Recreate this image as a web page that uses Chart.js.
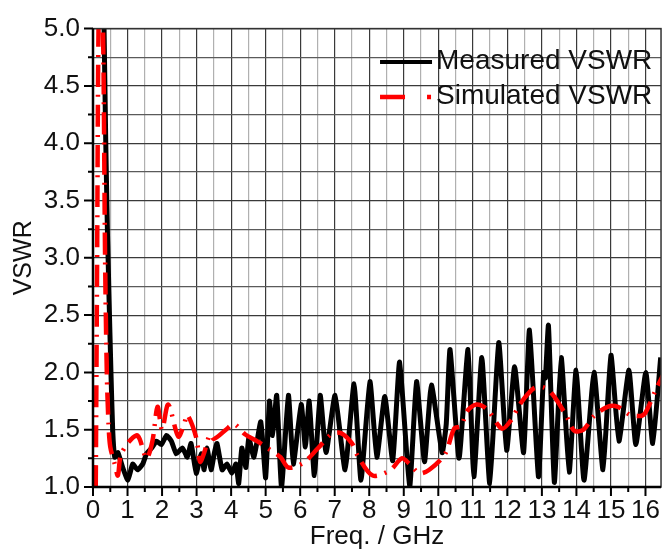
<!DOCTYPE html>
<html>
<head>
<meta charset="utf-8">
<script src="https://cdn.jsdelivr.net/npm/chart.js@4.4.1/dist/chart.umd.min.js"></script>
<style>
  html, body { margin: 0; background: #fff; }
  canvas { display: block; }
</style>
</head>
<body>
<canvas id="vswr" width="668" height="552"></canvas>
<script>
// values (GHz / VSWR)
const measuredFreq = [0.30, 0.32, 0.37, 0.42, 0.43, 0.46, 0.52, 0.57, 0.63, 0.72, 0.86, 1.01, 1.15, 1.29, 1.44, 1.55,
  1.70, 1.84, 1.98, 2.13, 2.27, 2.41, 2.59, 2.73, 2.84, 2.99, 3.13, 3.22, 3.30, 3.42, 3.51, 3.59, 3.74, 3.88,
  4.02, 4.14, 4.22, 4.31, 4.43, 4.51, 4.66, 4.86, 5.00, 5.11, 5.20, 5.32, 5.46, 5.66, 5.80, 6.03, 6.15, 6.26,
  6.41, 6.58, 6.75, 7.01, 7.30, 7.56, 7.76, 8.02, 8.22, 8.45, 8.68, 8.88, 9.17, 9.37, 9.60, 9.80, 10.11, 10.23,
  10.34, 10.60, 10.86, 11.03, 11.26, 11.49, 11.75, 11.98, 12.21, 12.47, 12.64, 12.90, 13.05, 13.10, 13.19, 13.36,
  13.56, 13.79, 13.99, 14.22, 14.51, 14.77, 15.00, 15.23, 15.52, 15.72, 16.01, 16.21, 16.44];
const measuredVswr = [5.3, 5.0, 4.0, 3.2, 3.1, 2.7, 2.0, 1.5, 1.26, 1.3, 1.17, 1.06, 1.2, 1.15, 1.2, 1.29,
  1.34, 1.4, 1.37, 1.45, 1.4, 1.29, 1.34, 1.26, 1.38, 1.12, 1.29, 1.15, 1.34, 1.15, 1.29, 1.38, 1.15, 1.2,
  1.12, 1.2, 1.03, 1.34, 1.17, 1.43, 1.26, 1.57, 1.08, 1.75, 1.45, 1.8, 1.0, 1.8, 1.2, 1.72, 1.35, 1.75,
  1.1, 1.8, 1.3, 1.8, 1.15, 1.9, 1.06, 1.92, 1.26, 1.79, 1.23, 2.09, 1.0, 1.92, 1.22, 1.89, 1.3, 1.55,
  2.2, 1.25, 2.2, 1.09, 2.13, 1.03, 2.26, 1.32, 2.05, 1.3, 2.37, 1.09, 2.0, 1.95, 2.41, 1.04,
  2.13, 1.13, 2.02, 1.06, 2.0, 1.15, 2.15, 1.4, 2.02, 1.37, 2.0, 1.38, 2.13];

const simulatedFreq = [0.08, 0.12, 0.16, 0.22, 0.29, 0.35, 0.40, 0.45, 0.50, 0.63, 0.72, 0.80, 1.00, 1.26, 1.35,
  1.55, 1.72, 1.87, 2.00, 2.18, 2.47, 2.64, 2.73, 2.99, 3.10, 3.22, 3.39, 3.50, 3.85, 4.08, 4.40, 4.75, 5.10,
  5.43, 5.66, 6.09, 6.52, 6.90, 7.18, 7.50, 7.67, 8.10, 8.62, 8.94, 9.17, 9.45, 9.74, 10.20, 10.46, 10.66,
  10.83, 11.10, 11.41, 11.84, 12.10, 12.36, 12.76, 13.05, 13.33, 13.71, 13.94, 14.20, 14.51, 14.90, 15.20,
  15.55, 15.86, 16.00, 16.30, 16.55];
const simulatedVswr = [1.0, 3.0, 5.0, 5.6, 5.0, 3.0, 2.0, 1.55, 1.35, 1.2, 1.1, 1.27, 1.38, 1.45, 1.42,
  1.25, 1.4, 1.7, 1.5, 1.72, 1.44, 1.55, 1.63, 1.43, 1.22, 1.3, 1.46, 1.42, 1.5, 1.55, 1.46, 1.4, 1.33,
  1.26, 1.17, 1.21, 1.34, 1.46, 1.47, 1.38, 1.27, 1.1, 1.15, 1.25, 1.2, 1.12, 1.15, 1.29, 1.51, 1.53,
  1.66, 1.72, 1.68, 1.51, 1.58, 1.72, 1.86, 1.87, 1.8, 1.62, 1.49, 1.5, 1.62, 1.7, 1.7,
  1.63, 1.62, 1.65, 1.85, 2.0];

const seriesNames = ['Measured VSWR', 'Simulated VSWR'];
const xTickLabels = ['0', '1', '2', '3', '4', '5', '6', '7', '8', '9', '10', '11', '12', '13', '14', '15', '16'];
const yTickLabels = ['1.0', '1.5', '2.0', '2.5', '3.0', '3.5', '4.0', '4.5', '5.0'];

const FONT = "'Liberation Sans', Arial, sans-serif";
const SIM_DASH = [22, 8, 2, 8];

const toPoints = (xs, ys) => xs.map((x, i) => ({ x: x, y: ys[i] }));
const isMajorX = v => Math.abs(v - Math.round(v)) < 1e-6;
const isMajorY = v => Math.abs(v * 2 - Math.round(v * 2)) < 1e-6;

// frame, outside tick marks and the in-plot legend
const decor = {
  id: 'decor',
  afterDatasetsDraw(chart) {
    const { ctx, chartArea: a, scales: { x, y } } = chart;
    ctx.save();
    ctx.strokeStyle = '#333';
    ctx.lineWidth = 1.5;
    ctx.strokeRect(a.left, a.top, a.right - a.left, a.bottom - a.top);
    ctx.strokeStyle = '#000';
    ctx.lineWidth = 2.5;
    ctx.beginPath();
    ctx.moveTo(a.left, a.top);
    ctx.lineTo(a.left, a.bottom);
    ctx.lineTo(a.right, a.bottom);
    ctx.stroke();

    ctx.lineWidth = 2;
    ctx.beginPath();
    x.ticks.forEach(t => {
      const px = x.getPixelForValue(t.value);
      const len = isMajorX(t.value) ? 9 : 5;
      ctx.moveTo(px, a.bottom);
      ctx.lineTo(px, a.bottom + len);
    });
    y.ticks.forEach(t => {
      const py = y.getPixelForValue(t.value);
      const len = isMajorY(t.value) ? 9 : 5;
      ctx.moveTo(a.left, py);
      ctx.lineTo(a.left - len, py);
    });
    ctx.stroke();

    // legend
    ctx.font = '28px ' + FONT;
    ctx.textBaseline = 'middle';
    ctx.fillStyle = '#111';
    const textX = a.right - 225;
    const rows = [62, 97];
    chart.data.datasets.forEach((ds, i) => {
      const ly = rows[i];
      ctx.strokeStyle = ds.borderColor;
      ctx.lineWidth = i === 1 ? 4.5 : 4;
      ctx.setLineDash(i === 1 ? [25, 22, 4, 30] : []);
      ctx.beginPath();
      ctx.moveTo(textX - 56, ly);
      ctx.lineTo(textX - 4, ly);
      ctx.stroke();
      ctx.setLineDash([]);
      ctx.fillText(ds.label, textX, ly - 1);
    });
    ctx.restore();
  }
};

new Chart(document.getElementById('vswr'), {
  type: 'line',
  data: {
    datasets: [
      {
        label: seriesNames[0],
        data: toPoints(measuredFreq, measuredVswr),
        borderColor: '#000',
        borderWidth: 5,
        pointRadius: 0,
        tension: 0.15,
        order: 1
      },
      {
        label: seriesNames[1],
        data: toPoints(simulatedFreq, simulatedVswr),
        borderColor: '#ff0000',
        borderWidth: 4.5,
        borderDash: SIM_DASH,
        pointRadius: 0,
        tension: 0.3,
        order: 0
      }
    ]
  },
  options: {
    responsive: false,
    animation: false,
    events: [],
    layout: { padding: { top: 20, right: 2, left: 0, bottom: 0 } },
    plugins: { legend: { display: false }, tooltip: { enabled: false } },
    scales: {
      x: {
        type: 'linear',
        min: 0,
        max: 16.45,
        afterFit: s => { s.height = 65; },
        border: { display: false },
        grid: {
          drawTicks: false,
          lineWidth: 1.2,
          color: c => isMajorX(c.tick.value) ? '#3a3a3a' : '#b0b0b0'
        },
        ticks: {
          stepSize: 0.5,
          includeBounds: false,
          autoSkip: false,
          maxRotation: 0,
          minRotation: 0,
          padding: 8,
          color: '#111',
          font: { family: FONT, size: 26 },
          callback: v => xTickLabels.includes(String(v)) && isMajorX(v) ? String(v) : ''
        },
        title: {
          display: true,
          text: 'Freq. / GHz',
          color: '#111',
          font: { family: FONT, size: 26 },
          padding: { top: 0, bottom: 0 }
        }
      },
      y: {
        min: 1,
        max: 5,
        afterFit: s => { s.width = 93; },
        border: { display: false },
        grid: {
          drawTicks: false,
          lineWidth: 1.2,
          color: c => isMajorY(c.tick.value) ? '#3a3a3a' : '#5a5a5a'
        },
        ticks: {
          stepSize: 0.25,
          autoSkip: false,
          padding: 13,
          color: '#111',
          font: { family: FONT, size: 26 },
          callback: v => isMajorY(v) && yTickLabels.includes(v.toFixed(1)) ? v.toFixed(1) : ''
        },
        title: {
          display: true,
          text: 'VSWR',
          color: '#111',
          font: { family: FONT, size: 25 },
          padding: { top: 9, bottom: 0 }
        }
      }
    }
  },
  plugins: [decor]
});
</script>
</body>
</html>
